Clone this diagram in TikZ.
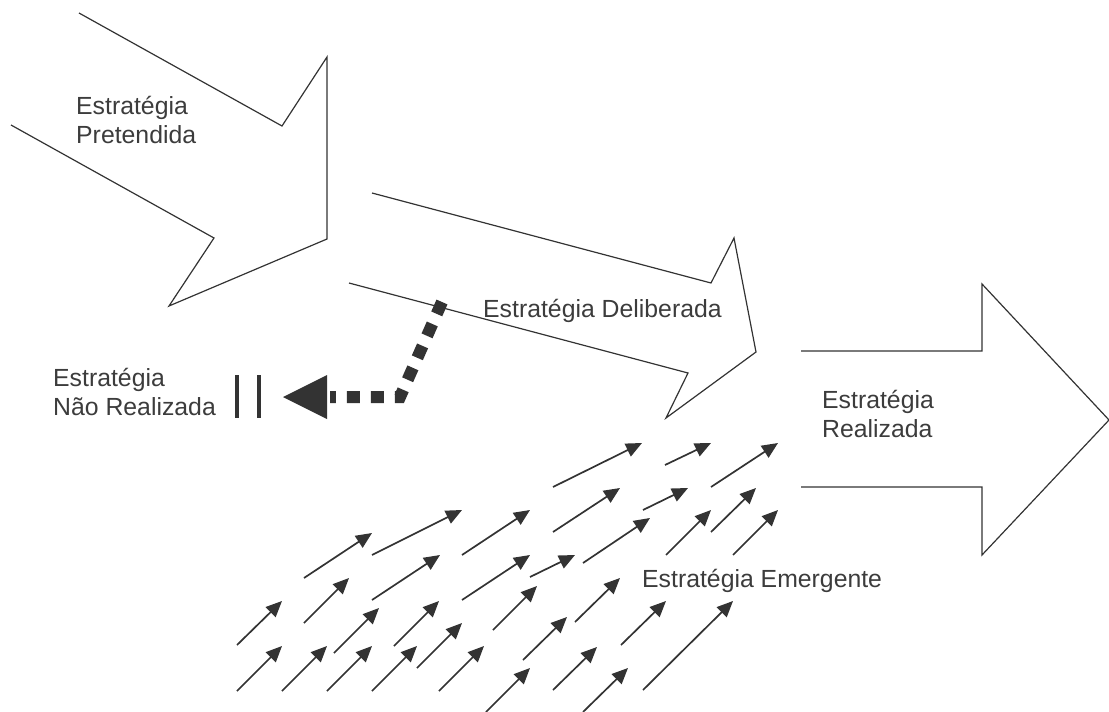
\documentclass[tikz,border=0pt]{standalone}
\usepackage{fontspec}
\setmainfont{Liberation Sans}
\usetikzlibrary{arrows.meta}
\definecolor{ink}{RGB}{51,51,51}
\definecolor{txt}{RGB}{60,60,60}
\tikzset{
  outline/.style={draw=ink, line width=1.2pt, line join=miter},
  small/.style={draw=ink, line width=1.7pt, -{Triangle[length=16pt,width=14pt]}, fill=ink},
  label/.style={text=txt, font=\fontsize{24.8}{29}\selectfont, inner sep=0pt, align=left, anchor=base west},
  bar/.style={draw=ink, line width=3.5pt}
}
\begin{document}
\begin{tikzpicture}[x=1pt,y=-1pt]
\useasboundingbox (0,0) rectangle (1109,712);
% Estrategia Pretendida arrow
\draw[outline] (79,13) -- (282,126) -- (327,57) -- (327,239) -- (169,306) -- (214,238) -- (11,125);
% Estrategia Deliberada arrow
\draw[outline] (372,193) -- (711,283) -- (734,238) -- (756,352) -- (666,418) -- (688,373) -- (349,283);
% Estrategia Realizada arrow
\draw[outline] (801,351) -- (982,351) -- (982,284) -- (1109,420) -- (982,555) -- (982,487) -- (801,487);
% labels (base = baseline of last line)
\node[label] (pret) at (76,143) {Estratégia\\Pretendida};
\node[label] (delib) at (483,317) {Estratégia Deliberada};
\node[label] (real) at (822,437) {Estratégia\\Realizada};
\node[label] (nreal) at (53,415) {Estratégia\\Não Realizada};
\node[label] (emerg) at (642,587) {Estratégia Emergente};
% bars
\draw[bar] (237,375) -- (237,418);
\draw[bar] (259,375) -- (259,418);
% unrealized dashed arrow
\coordinate (ustart) at (442,302);
\coordinate (ucorner) at (400,397);
\coordinate (utip) at (283,397);
\draw[draw=ink, line width=12pt, dash pattern=on 13pt off 11pt] (ustart) -- (ucorner) -- (330,397);
\fill[ink] (utip) -- (327,375) -- (327,419) -- cycle;
% emergent arrows
\foreach \a/\b/\c/\d in {
553/487/642/443, 665/465/711/443, 711/487/778/443,
553/532/620/488, 643/510/688/488, 711/532/756/488,
733/555/778/510, 666/555/711/510, 583/563/650/518,
575/622/620/578, 583/712/628/668, 553/690/597/647,
523/660/567/617, 621/645/666/601, 643/690/733/601,
530/577/575/555, 493/630/537/586,
304/578/372/533, 372/555/462/510, 462/555/530/510,
304/623/349/578, 372/600/440/555, 462/600/530/555,
237/645/282/601, 237/691/282/646, 282/691/327/646,
334/653/379/608, 327/691/372/646, 394/646/439/601,
372/691/417/646, 417/668/462/623, 439/691/484/646,
486/712/530/668}
  \draw[small] (\a,\b) -- (\c,\d);
\end{tikzpicture}
\end{document}
